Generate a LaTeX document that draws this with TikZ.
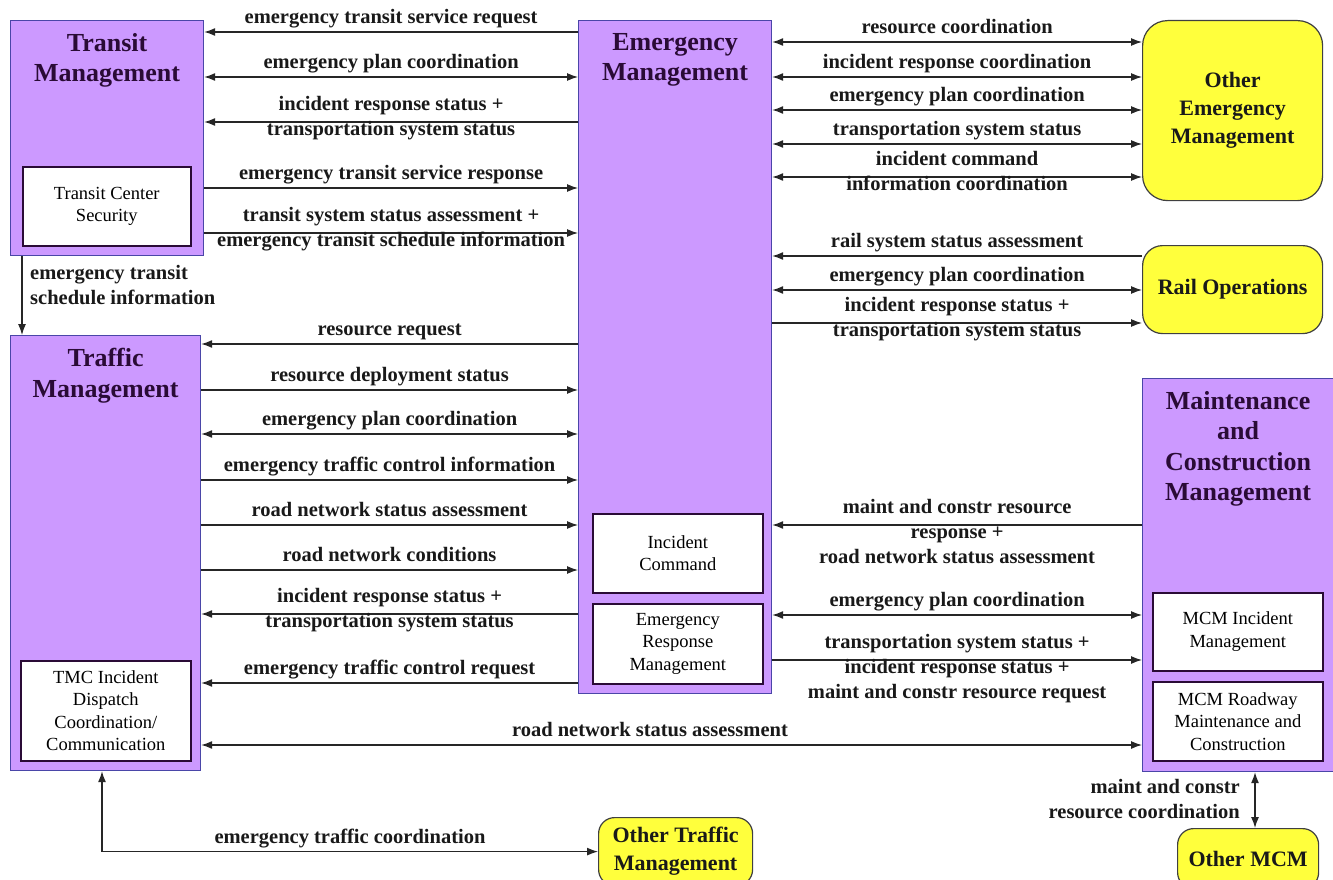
\documentclass[tikz,border=0pt]{standalone}
\usepackage{fontspec}
\setmainfont{Liberation Serif}
\usetikzlibrary{arrows.meta}
\definecolor{purp}{HTML}{CC99FF}
\definecolor{pborder}{HTML}{4A46A8}
\definecolor{yel}{HTML}{FFFF3C}
\definecolor{ink}{HTML}{2A0B36}
\begin{document}
\begin{tikzpicture}[x=1pt,y=-1pt, >={Latex[length=11pt,width=8pt]},
 conn/.style={line width=1.2pt, draw=black!85},
 sys/.style={draw=pborder, fill=purp, line width=1.2pt, anchor=north west, inner sep=0pt},
 sub/.style={draw=ink, fill=white, line width=1.6pt, anchor=north west, inner sep=0pt, align=center, font=\fontsize{18.5}{22.5}\selectfont},
 ext/.style={draw=black!75, fill=yel, line width=1.2pt, anchor=north west, inner sep=0pt, align=center, font=\fontsize{22}{28}\selectfont\bfseries, text=black!90},
 ttl/.style={anchor=north, align=center, inner sep=0pt, font=\fontsize{26}{30.5}\selectfont\bfseries, text=ink, execute at begin node=\strut},
 lab/.style={align=center, inner sep=0pt, font=\fontsize{20.5}{25}\selectfont\bfseries, text=black!90, execute at begin node=\strut},
 lb/.style={lab, anchor=north, yshift=26.5pt}]
\useasboundingbox (0,0) rectangle (1333,880);
\fill[white] (0,0) rectangle (1333,880);

% ---- system boxes ----
\node[sys, minimum width=193pt, minimum height=235pt] (tm) at (10,20) {};
\node[ttl] (tmt) at ([yshift=-13pt]tm.north) {Transit\\Management};
\node[sub, minimum width=168pt, minimum height=79pt] (tcs) at (22,166) {Transit Center\\Security};

\node[sys, minimum width=190pt, minimum height=435pt] (trm) at (10,335) {};
\node[ttl] (trmt) at ([yshift=-13pt]trm.north) {Traffic\\Management};
\node[sub, minimum width=170pt, minimum height=100pt] (tmc) at (20,660) {TMC Incident\\Dispatch\\Coordination/\\Communication};

\node[sys, minimum width=193pt, minimum height=673pt] (em) at (578,20) {};
\node[ttl] (emt) at ([yshift=-13pt]em.north) {Emergency\\Management};
\node[sub, minimum width=170pt, minimum height=79pt] (ic) at (592,513) {Incident\\Command};
\node[sub, minimum width=170pt, minimum height=80pt] (erm) at (592,603) {Emergency\\Response\\Management};

\node[sys, minimum width=191pt, minimum height=393pt] (mcm) at (1142,378) {};
\node[ttl] (mcmt) at ([yshift=-13pt]mcm.north) {Maintenance\\and\\Construction\\Management};
\node[sub, minimum width=170pt, minimum height=78pt] (mcmi) at (1152,592) {MCM Incident\\Management};
\node[sub, minimum width=170pt, minimum height=79pt] (mcmr) at (1152,681) {MCM Roadway\\Maintenance and\\Construction};

% ---- external boxes ----
\node[ext, rounded corners=25pt, minimum width=180pt, minimum height=180pt] (oem) at (1142,20) {Other\\Emergency\\Management};
\node[ext, rounded corners=20pt, minimum width=180pt, minimum height=88pt] (rail) at (1142,245) {Rail Operations};
\node[ext, rounded corners=16pt, minimum width=154pt, minimum height=68pt] (otm) at (598,817) {Other Traffic\\Management};
\node[ext, rounded corners=16pt, minimum width=141pt, minimum height=60pt] (omcm) at (1177,828) {Other MCM};

% ---- Transit <-> Emergency ----
\draw[conn,->] (em.west |- 0,32) -- node[lb] (l1) {emergency transit service request} (tm.east |- 0,32);
\draw[conn,<->] (tm.east |- 0,77) -- node[lb] (l2) {emergency plan coordination} (em.west |- 0,77);
\draw[conn,->] (em.west |- 0,122) -- node[lb] (l3) {incident response status +\\transportation system status} (tm.east |- 0,122);
\draw[conn,->] (tm.east |- 0,188) -- node[lb] (l4) {emergency transit service response} (em.west |- 0,188);
\draw[conn,->] (tm.east |- 0,233) -- node[lb] (l5) {transit system status assessment +\\emergency transit schedule information} (em.west |- 0,233);

% ---- Transit -> Traffic ----
\draw[conn,->] (tm.south -| 22,0) -- (trm.north -| 22,0);
\node[lab, anchor=north west, align=left] (l6) at (30,265.5) {emergency transit\\schedule information};

% ---- Traffic <-> Emergency ----
\draw[conn,->] (em.west |- 0,344) -- node[lb] (l7) {resource request} (trm.east |- 0,344);
\draw[conn,->] (trm.east |- 0,390) -- node[lb] (l8) {resource deployment status} (em.west |- 0,390);
\draw[conn,<->] (trm.east |- 0,434) -- node[lb] (l9) {emergency plan coordination} (em.west |- 0,434);
\draw[conn,->] (trm.east |- 0,480) -- node[lb] (l10) {emergency traffic control information} (em.west |- 0,480);
\draw[conn,->] (trm.east |- 0,525) -- node[lb] (l11) {road network status assessment} (em.west |- 0,525);
\draw[conn,->] (trm.east |- 0,570) -- node[lb] (l12) {road network conditions} (em.west |- 0,570);
\draw[conn,->] (em.west |- 0,614) -- node[lb] (l13) {incident response status +\\transportation system status} (trm.east |- 0,614);
\draw[conn,->] (em.west |- 0,683) -- node[lb] (l14) {emergency traffic control request} (trm.east |- 0,683);
\draw[conn,<->] (trm.east |- 0,745) -- node[lb, pos=0.477] (l15) {road network status assessment} (mcm.west |- 0,745);

% ---- Traffic <-> Other Traffic ----
\draw[conn,<->] (trm.south -| 102,0) |- node[lb, pos=0.75] (l16) {emergency traffic coordination} (otm.west);

% ---- Emergency <-> Other Emergency ----
\draw[conn,<->] (em.east |- 0,42) -- node[lb] (l17) {resource coordination} (oem.west |- 0,42);
\draw[conn,<->] (em.east |- 0,77) -- node[lb] (l18) {incident response coordination} (oem.west |- 0,77);
\draw[conn,<->] (em.east |- 0,110) -- node[lb] (l19) {emergency plan coordination} (oem.west |- 0,110);
\draw[conn,<->] (em.east |- 0,144) -- node[lb] (l20) {transportation system status} (oem.west |- 0,144);
\draw[conn,<->] (em.east |- 0,177) -- node[lb] (l21) {incident command\\information coordination} (oem.west |- 0,177);

% ---- Emergency <-> Rail ----
\draw[conn,->] (rail.west |- 0,256) -- node[lb] (l22) {rail system status assessment} (em.east |- 0,256);
\draw[conn,<->] (em.east |- 0,290) -- node[lb] (l23) {emergency plan coordination} (rail.west |- 0,290);
\draw[conn,->] (em.east |- 0,323) -- node[lb] (l24) {incident response status +\\transportation system status} (rail.west |- 0,323);

% ---- Emergency <-> MCM ----
\draw[conn,->] (mcm.west |- 0,525) -- node[lb] (l25) {maint and constr resource\\response +\\road network status assessment} (em.east |- 0,525);
\draw[conn,<->] (em.east |- 0,615) -- node[lb] (l26) {emergency plan coordination} (mcm.west |- 0,615);
\draw[conn,->] (em.east |- 0,660) -- node[lb] (l27) {transportation system status +\\incident response status +\\maint and constr resource request} (mcm.west |- 0,660);

% ---- MCM <-> Other MCM ----
\draw[conn,<->] (mcm.south -| 1255,0) -- (omcm.north -| 1255,0);
\node[lab, anchor=north east, align=right] (l28) at (1240,779.5) {maint and constr\\resource coordination};
\end{tikzpicture}
\end{document}
